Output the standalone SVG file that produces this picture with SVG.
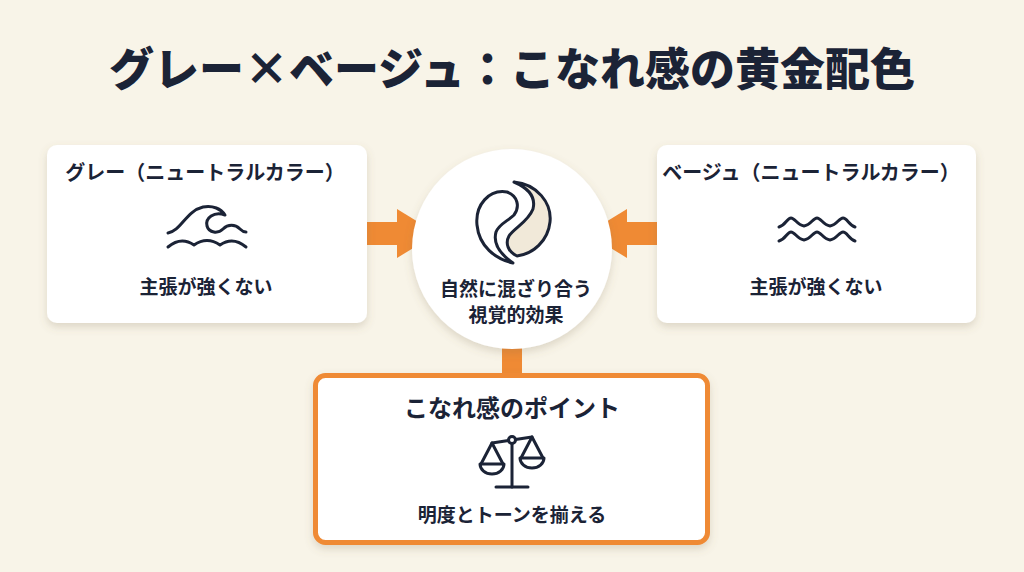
<svg xmlns="http://www.w3.org/2000/svg" width="1024" height="572" viewBox="0 0 1024 572">
  <defs>
    <filter id="shadow" x="-10%" y="-10%" width="120%" height="130%">
      <feDropShadow dx="0" dy="4" stdDeviation="4" flood-color="#7a6a50" flood-opacity="0.22"/>
    </filter>
  </defs>
  <style>
    text { font-family: "Noto Sans CJK JP", "Noto Sans", sans-serif; fill: #1b2336; font-weight: 700; text-anchor: middle; }
    .title { font-size: 45px; font-weight: 900; }
    .head { font-size: 20px; }
    .body { font-size: 19px; }
    .card { fill: #ffffff; filter: url(#shadow); }
    .icon { fill: none; stroke: #1b2336; stroke-width: 3; stroke-linecap: round; stroke-linejoin: round; }
    .arrow { fill: #ef8a34; }
  </style>
  <rect x="0" y="0" width="1024" height="572" fill="#f8f4e8"/>

  <text class="title" x="512" y="86">グレー×ベージュ：こなれ感の黄金配色</text>

  <g id="connectors">
    <rect class="arrow" x="364" y="222" width="36" height="23"/>
    <polygon class="arrow" points="397,209 437,233.5 397,258"/>
    <rect class="arrow" x="624" y="222" width="35" height="23"/>
    <polygon class="arrow" points="627,209 587,233.5 627,258"/>
    <rect class="arrow" x="502" y="340" width="20" height="36"/>
  </g>

  <g id="gray">
    <rect class="card" x="47" y="145" width="320" height="178" rx="10"/>
    <text class="head" x="205" y="180">グレー（ニュートラルカラー）</text>
    <path class="icon" d="M168 233 C181 231 186 211 203 207 C213 205 221 209 225 215 C214 211 205 218 207 226 C209 233 218 234 223 229 C228 224 235 224 240 229 C242 231 244 232 246 232"/>
    <path class="icon" d="M168 247 Q181 236 194 245 Q207 236 220 245 Q233 236 246 247"/>
    <text class="body" x="206" y="294">主張が強くない</text>
  </g>

  <g id="beige">
    <rect class="card" x="657" y="145" width="319" height="178" rx="10"/>
    <text class="head" x="811" y="180">ベージュ（ニュートラルカラー）</text>
    <path class="icon" d="M779 227 C786 225 787 218 791 218 C795 218 797 225 804 226 C811 225 813 218 817 218 C821 218 823 225 830 226 C837 225 839 218 843 218 C847 218 849 225 855 227"/>
    <path class="icon" d="M779 241 C786 239 787 232 791 232 C795 232 797 239 804 240 C811 239 813 232 817 232 C821 232 823 239 830 240 C837 239 839 232 843 232 C847 232 849 239 855 241"/>
    <text class="body" x="816" y="294">主張が強くない</text>
  </g>

  <g id="blend">
    <circle cx="512" cy="249" r="100" fill="#ffffff" filter="url(#shadow)"/>
    <path class="icon" fill="#ffffff" d="M507 192 C489 189 475 205 477 225 C479 246 495 259 513 263 C500 254 493 243 496 232 C499 224 508 221 514 215 C520 207 518 196 507 192 Z"/>
    <path class="icon" style="fill:#f1e9d9" d="M514 182 C537 184 552 203 550 222 C548 241 533 254 517 256 C508 252 505 243 509 236 C514 228 528 222 533 209 C536 197 528 188 514 182 Z"/>
    <text class="body" x="516" y="296">自然に混ざり合う</text>
    <text class="body" x="516" y="322">視覚的効果</text>
  </g>

  <g id="point">
    <rect x="315.5" y="375.5" width="392" height="167" rx="10" fill="#ffffff" stroke="#ef8a34" stroke-width="5" filter="url(#shadow)"/>
    <text x="512" y="417" style="font-size:24px">こなれ感のポイント</text>
    <g class="icon">
      <line x1="492" y1="443" x2="508.5" y2="440.5"/>
      <line x1="515.5" y1="439.5" x2="532" y2="437"/>
      <circle cx="512" cy="440" r="3.5"/>
      <line x1="512" y1="443.5" x2="512" y2="487"/>
      <line x1="496" y1="487" x2="528" y2="487"/>
      <path d="M492 443 L481 464 M492 443 L503 464"/>
      <path d="M480 464 L504 464 A12 10 0 0 1 480 464 Z"/>
      <path d="M532 437 L521 458 M532 437 L543 458"/>
      <path d="M520 458 L544 458 A12 10 0 0 1 520 458 Z"/>
    </g>
    <text class="body" x="512" y="522">明度とトーンを揃える</text>
  </g>
</svg>
